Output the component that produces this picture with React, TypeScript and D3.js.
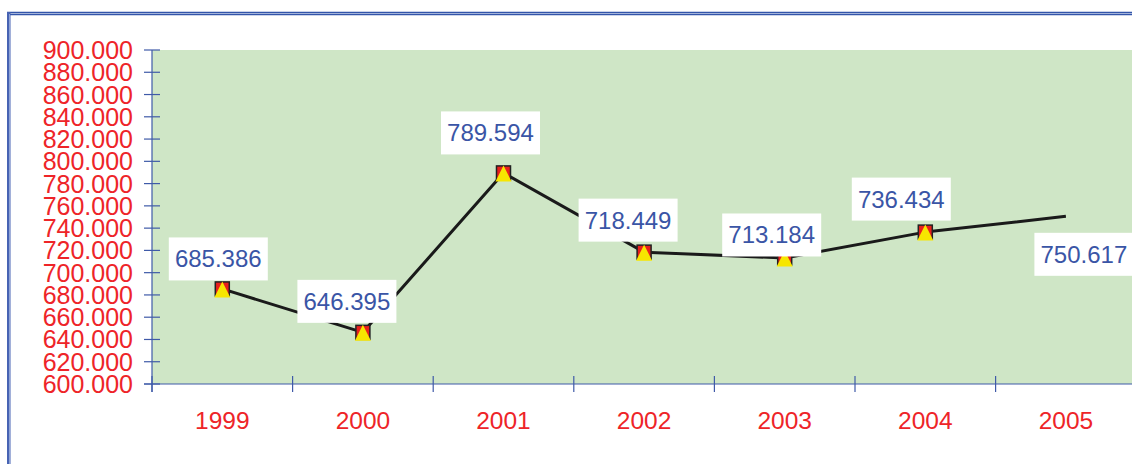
import React from "react";
import * as d3 from "d3";

const years = ["1999", "2000", "2001", "2002", "2003", "2004", "2005"];
const values = [685.386, 646.395, 789.594, 718.449, 713.184, 736.434, 750.617];
const valueLabels = ["685.386", "646.395", "789.594", "718.449", "713.184", "736.434", "750.617"];
const showMarker = [true, true, true, true, true, true, false];
const yTicks = [600, 620, 640, 660, 680, 700, 720, 740, 760, 780, 800, 820, 840, 860, 880, 900];
// manual data-label placement (dx, dy of label centre from the point)
const labelDx = [-4, -16, -13, -16, -13, -24, 18];
const labelDy = [-30, -31, -40, -32, -23, -33, 38];

const W = 1132;
const H = 464;
const FONT = "'Liberation Sans', Arial, sans-serif";
const AXIS = "#3f5aa8";
const RED = "#ee2428";
const BLUE_TXT = "#3a55a6";

export default function App() {
  const left = 152;
  const band = 140.6;
  const x = d3.scaleBand<string>().domain(years).range([left, left + band * years.length]).padding(0);
  const y = d3.scaleLinear().domain([600, 900]).range([384, 50]);
  const cx = (i: number) => (x(years[i]) as number) + x.bandwidth() / 2;

  const line = d3
    .line<number>()
    .x((_, i) => cx(i))
    .y((d) => y(d));

  const xEnd = left + band * years.length;
  const tickXs = d3.range(years.length + 1).map((k) => left + k * x.bandwidth());

  return (
    <svg
      width={W}
      height={H}
      style={{ position: "absolute", left: 0, top: 0, background: "#ffffff" }}
      fontFamily={FONT}
    >
      {/* frame */}
      <line x1={7} y1={12.5} x2={W} y2={12.5} stroke="#3355aa" strokeWidth={1.4} />
      <line x1={9.5} y1={14.5} x2={W} y2={14.5} stroke="#3355aa" strokeWidth={1.4} />
      <rect x={7} y={12} width={3.5} height={H} fill="#4763b3" />
      <line x1={9.5} y1={14} x2={9.5} y2={H} stroke="#8fa3d6" strokeWidth={1} />

      {/* plot area */}
      <rect x={left} y={y(900)} width={xEnd - left} height={y(600) - y(900)} fill="#cfe6c6" />

      {/* y axis */}
      <line x1={left} y1={y(900)} x2={left} y2={392} stroke={AXIS} strokeWidth={1.2} />
      {yTicks.map((t) => (
        <g key={t}>
          <line x1={left - 8} x2={left + 8} y1={y(t)} y2={y(t)} stroke={AXIS} strokeWidth={1.2} />
          <text
            x={133}
            y={y(t)}
            textAnchor="end"
            dominantBaseline="central"
            fontSize={25}
            fill={RED}
          >
            {t.toFixed(0) + ".000"}
          </text>
        </g>
      ))}

      {/* x axis */}
      <line x1={left - 8} y1={y(600)} x2={xEnd} y2={y(600)} stroke={AXIS} strokeWidth={1.2} />
      {tickXs.map((tx, k) => (
        <line key={k} x1={tx} x2={tx} y1={376} y2={392} stroke={AXIS} strokeWidth={1.2} />
      ))}
      {years.map((yr, i) => (
        <text key={yr} x={cx(i)} y={429} textAnchor="middle" fontSize={24.5} fill={RED}>
          {yr}
        </text>
      ))}

      {/* line */}
      <path d={line(values) || ""} fill="none" stroke="#1a1a1a" strokeWidth={3} strokeLinejoin="round" />

      {/* markers */}
      {values.map((v, i) =>
        showMarker[i] ? (
          <g key={i} transform={`translate(${cx(i)},${y(v)})`}>
            <rect x={-7} y={-7} width={14} height={14} fill="#e8201c" stroke="#222" strokeWidth={1.5} />
            <path d="M0,-7.5 L8,8.5 L-8,8.5 Z" fill="#f7e600" />
          </g>
        ) : null
      )}

      {/* data labels */}
      {values.map((v, i) => {
        const lx = cx(i) + labelDx[i];
        const ly = y(v) + labelDy[i];
        return (
          <g key={"l" + i}>
            <rect x={lx - 49.5} y={ly - 21.5} width={99} height={43} fill="#ffffff" />
            <text x={lx} y={ly} textAnchor="middle" dominantBaseline="central" fontSize={24} fill={BLUE_TXT}>
              {valueLabels[i]}
            </text>
          </g>
        );
      })}
    </svg>
  );
}
